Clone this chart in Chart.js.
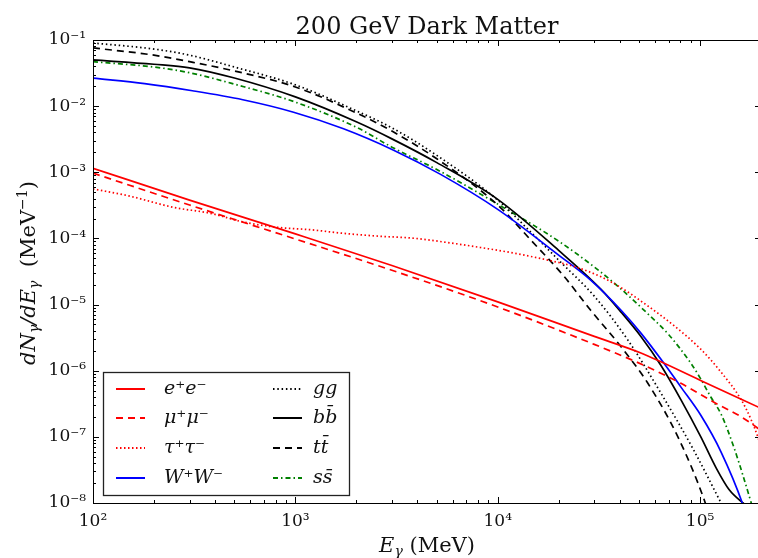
<!DOCTYPE html>
<html>
<head>
<meta charset="utf-8">
<script src="https://cdn.jsdelivr.net/npm/chart.js@4"></script>
<style>
  html, body { margin: 0; padding: 0; background: #fff; overflow: hidden; }
  canvas { display: block; }
</style>
</head>
<body>
<canvas id="spectra" width="761" height="558"></canvas>
<script>
// photon energy (MeV) / dN/dE (1/MeV), one pair per channel
const eeE = [100, 300, 1000, 3000, 1e4, 3e4, 5.1e4, 1e5, 2e5];
const eeN = [1.15e-3, 3.8e-4, 1.17e-4, 3.9e-5, 1.1e-5, 3.3e-6, 1.85e-6, 7.2e-7, 2.7e-7];

const mumuE = [100, 300, 1000, 3000, 1e4, 3e4, 5.3e4, 8e4, 1.2e5, 1.6e5, 1.9e5, 2e5];
const mumuN = [9.7e-4, 3.2e-4, 9.8e-5, 3.3e-5, 9.2e-6, 2.5e-6, 1.2e-6, 6.5e-7, 3.2e-7, 2.0e-7, 1.4e-7, 1.25e-7];

const tautauE = [100, 150, 250, 380, 550, 800, 1200, 1700, 2600, 3800, 5600, 8200, 1.2e4, 1.77e4, 2.43e4, 3.24e4, 4.07e4, 5.28e4, 7.43e4, 1.01e5, 1.27e5, 1.6e5, 1.79e5, 1.94e5, 2e5];
const tautauN = [5.6e-4, 4.4e-4, 2.95e-4, 2.4e-4, 1.78e-4, 1.48e-4, 1.35e-4, 1.2e-4, 1.08e-4, 1.01e-4, 8.7e-5, 7.3e-5, 6.0e-5, 4.7e-5, 3.7e-5, 2.63e-5, 1.8e-5, 1.05e-5, 4.8e-6, 2.1e-6, 9.5e-7, 3.6e-7, 1.8e-7, 9.5e-8, 7e-8];

const wwE = [100, 180, 310, 550, 980, 1730, 3060, 5220, 1e4, 2e4, 2.88e4, 4.07e4, 5.1e4, 6.56e4, 8.06e4, 1.01e5, 1.27e5, 1.63e5, 1.7e5];
const wwN = [2.66e-2, 2.19e-2, 1.71e-2, 1.25e-2, 8.1e-3, 4.55e-3, 2.16e-3, 9.3e-4, 2.75e-4, 5.6e-5, 2.34e-5, 8.2e-6, 3.7e-6, 1.35e-6, 5.6e-7, 2.1e-7, 5.9e-8, 9.3e-9, 6e-9];

const ggE = [100, 200, 300, 500, 1000, 2000, 3000, 5000, 1e4, 1.46e4, 2e4, 3e4, 4.4e4, 6.4e4, 9.3e4, 1.27e5, 1.35e5];
const ggN = [9.0e-2, 7.3e-2, 5.9e-2, 3.9e-2, 2.1e-2, 8.5e-3, 4.7e-3, 1.8e-3, 3.8e-4, 1.24e-4, 4.7e-5, 1.34e-5, 2.9e-6, 4.6e-7, 6.3e-8, 1e-8, 7e-9];

const bbE = [100, 200, 300, 500, 1000, 2000, 3000, 5000, 1e4, 2e4, 3.24e4, 4.07e4, 5.1e4, 6.41e4, 8.06e4, 1.01e5, 1.2e5, 1.39e5, 1.63e5, 1.75e5];
const bbN = [5.0e-2, 4.3e-2, 3.8e-2, 2.66e-2, 1.38e-2, 5.8e-3, 3.2e-3, 1.4e-3, 3.9e-4, 6.6e-5, 1.7e-5, 7.7e-6, 3.3e-6, 1.2e-6, 3.6e-7, 9.9e-8, 3.4e-8, 1.6e-8, 1.0e-8, 8.5e-9];

const ttE = [100, 200, 300, 500, 1000, 2000, 3000, 5000, 1e4, 1.46e4, 2.12e4, 2.88e4, 4.07e4, 5.53e4, 7.78e4, 1.05e5, 1.1e5];
const ttN = [7.6e-2, 5.9e-2, 4.7e-2, 3.4e-2, 1.95e-2, 7.9e-3, 4.2e-3, 1.6e-3, 3.2e-4, 9.4e-5, 2.7e-5, 8.2e-6, 2.3e-6, 6.4e-7, 9.9e-8, 1.1e-8, 7e-9];

const ssE = [100, 200, 300, 500, 1000, 2000, 3000, 5000, 1e4, 2e4, 3e4, 4e4, 5.1e4, 7e4, 9e4, 1e5, 1.13e5, 1.27e5, 1.47e5, 1.79e5, 1.85e5];
const ssN = [4.7e-2, 3.9e-2, 3.2e-2, 2.15e-2, 1.15e-2, 4.8e-3, 2.4e-3, 1.1e-3, 3.3e-4, 9.1e-5, 3.7e-5, 1.8e-5, 9.1e-6, 3.5e-6, 1.3e-6, 7.8e-7, 4e-7, 2.2e-7, 6.9e-8, 1e-8, 7e-9];

const channels = ['e⁺e⁻', 'μ⁺μ⁻', 'τ⁺τ⁻', 'W⁺W⁻', 'gg', 'bb̄', 'tt̄', 'ss̄'];

const xTickVals = [1e2, 1e3, 1e4, 1e5];
const xTickLabels = ['10²', '10³', '10⁴', '10⁵'];
const yTickVals = [1e-8, 1e-7, 1e-6, 1e-5, 1e-4, 1e-3, 1e-2, 1e-1];
const yTickLabels = ['10⁻⁸', '10⁻⁷', '10⁻⁶', '10⁻⁵', '10⁻⁴', '10⁻³', '10⁻²', '10⁻¹'];

const SERIF = '"DejaVu Serif", serif';

function pts(xs, ys) {
  return xs.map((x, i) => ({ x: x, y: ys[i] }));
}

function series(label, xs, ys, color, dash) {
  return {
    label: label,
    data: pts(xs, ys),
    borderColor: color,
    borderDash: dash,
    borderWidth: 1.7,
    pointRadius: 0,
    fill: false,
    cubicInterpolationMode: 'monotone',
  };
}

// 1..9 x 10^n between min and max, used for the minor ticks
function logTicks(min, max) {
  const out = [];
  for (let e = Math.floor(Math.log10(min)); e <= Math.ceil(Math.log10(max)); e++) {
    for (let m = 1; m < 10; m++) {
      const v = m * Math.pow(10, e);
      if (v >= min * 0.999 && v <= max * 1.001) out.push(v);
    }
  }
  return out;
}

function isDecade(v) {
  const l = Math.log10(v);
  return Math.abs(l - Math.round(l)) < 1e-6;
}

function labelFor(vals, labels) {
  return (value) => {
    const i = vals.findIndex(t => Math.abs(Math.log10(t) - Math.log10(value)) < 1e-6);
    return i >= 0 ? labels[i] : '';
  };
}

// draw a run of differently styled text pieces, starting at x
function drawParts(ctx, parts, x, y) {
  parts.forEach(p => {
    ctx.font = p.font;
    ctx.fillText(p.t, x, y + (p.dy || 0));
    x += ctx.measureText(p.t).width;
  });
}
function partsWidth(ctx, parts) {
  let w = 0;
  parts.forEach(p => { ctx.font = p.font; w += ctx.measureText(p.t).width; });
  return w;
}

const decorations = {
  id: 'decorations',
  afterDatasetsDraw(chart) {
    const { ctx, chartArea: a, scales } = chart;
    ctx.save();
    ctx.strokeStyle = '#000';
    ctx.lineWidth = 1;
    ctx.setLineDash([]);
    ctx.strokeRect(a.left + 0.5, a.top + 0.5, a.right - a.left - 1, a.bottom - a.top);

    ctx.beginPath();
    scales.x.ticks.forEach(t => {
      const px = Math.round(scales.x.getPixelForValue(t.value)) + 0.5;
      const len = isDecade(t.value) ? 6 : 3;
      ctx.moveTo(px, a.bottom); ctx.lineTo(px, a.bottom - len);
      ctx.moveTo(px, a.top); ctx.lineTo(px, a.top + len);
    });
    scales.y.ticks.forEach(t => {
      const py = Math.round(scales.y.getPixelForValue(t.value)) + 0.5;
      const len = isDecade(t.value) ? 6 : 3;
      ctx.moveTo(a.left, py); ctx.lineTo(a.left + len, py);
      ctx.moveTo(a.right, py); ctx.lineTo(a.right - len, py);
    });
    ctx.stroke();

    // legend, two columns inside the plot
    const bx = 103.5, by = 372.5, bw = 246, bh = 123;
    ctx.fillStyle = '#fff';
    ctx.fillRect(bx, by, bw, bh);
    ctx.lineWidth = 1.3;
    ctx.strokeStyle = '#222';
    ctx.strokeRect(bx, by, bw, bh);
    const rows = [389, 418, 448, 478];
    const cols = [{ x0: 116, x1: 145, tx: 164 }, { x0: 273, x1: 302, tx: 313 }];
    ctx.textBaseline = 'middle';
    ctx.textAlign = 'left';
    chart.data.datasets.forEach((ds, i) => {
      const c = cols[Math.floor(i / 4)];
      const y = rows[i % 4];
      ctx.strokeStyle = ds.borderColor;
      ctx.lineWidth = 2;
      ctx.setLineDash(ds.borderDash || []);
      ctx.beginPath();
      ctx.moveTo(c.x0, y); ctx.lineTo(c.x1, y);
      ctx.stroke();
      ctx.setLineDash([]);
      ctx.fillStyle = '#111';
      ctx.font = 'italic 19px ' + SERIF;
      ctx.fillText(ds.label, c.tx, y);
    });

    // title and axis titles
    ctx.fillStyle = '#111';
    ctx.textBaseline = 'alphabetic';
    ctx.textAlign = 'center';
    ctx.font = '24px ' + SERIF;
    ctx.fillText('200 GeV Dark Matter', (a.left + a.right) / 2, 34);

    ctx.textAlign = 'left';
    const it = 'italic 21px ' + SERIF, rm = '21px ' + SERIF;
    const sub = 'italic 14px ' + SERIF, sup = '14px ' + SERIF;
    const xParts = [
      { t: 'E', font: it }, { t: 'γ', font: sub, dy: 4 }, { t: ' (MeV)', font: rm },
    ];
    drawParts(ctx, xParts, (a.left + a.right) / 2 - partsWidth(ctx, xParts) / 2, 552);

    const yParts = [
      { t: 'dN', font: it }, { t: 'γ', font: sub, dy: 4 }, { t: '/dE', font: it },
      { t: 'γ', font: sub, dy: 4 }, { t: '  (MeV', font: rm }, { t: '−1', font: sup, dy: -8 },
      { t: ')', font: rm },
    ];
    ctx.translate(35, 273);
    ctx.rotate(-Math.PI / 2);
    drawParts(ctx, yParts, -partsWidth(ctx, yParts) / 2, 0);
    ctx.restore();
  },
};

// keep the plot box where it is in the reference
function noPad(scale) {
  scale.paddingLeft = 0;
  scale.paddingRight = 0;
  scale.paddingTop = 0;
  scale.paddingBottom = 0;
}

new Chart(document.getElementById('spectra'), {
  type: 'line',
  data: {
    datasets: [
      series(channels[0], eeE, eeN, '#ff0000', []),
      series(channels[1], mumuE, mumuN, '#ff0000', [7, 5]),
      series(channels[2], tautauE, tautauN, '#ff0000', [1.5, 2.5]),
      series(channels[3], wwE, wwN, '#0000ff', []),
      series(channels[4], ggE, ggN, '#000000', [1.5, 2.8]),
      series(channels[5], bbE, bbN, '#000000', []),
      series(channels[6], ttE, ttN, '#000000', [7, 5]),
      series(channels[7], ssE, ssN, '#008000', [5, 3, 1.5, 3]),
    ],
  },
  options: {
    responsive: false,
    animation: false,
    layout: { padding: { top: 40, right: 0, left: 0, bottom: 0 } },
    plugins: {
      legend: { display: false },
      title: { display: false },
      tooltip: { enabled: false },
    },
    scales: {
      x: {
        type: 'logarithmic',
        min: 100,
        max: 2e5,
        grid: { display: false, drawTicks: false },
        border: { display: false },
        afterBuildTicks: (scale) => { scale.ticks = logTicks(scale.min, scale.max).map(v => ({ value: v })); },
        afterFit: (scale) => { scale.height = 55; noPad(scale); },
        ticks: {
          autoSkip: false,
          maxRotation: 0,
          padding: 8,
          color: '#111',
          font: { family: SERIF, size: 17 },
          callback: labelFor(xTickVals, xTickLabels),
        },
      },
      y: {
        type: 'logarithmic',
        min: 1e-8,
        max: 1e-1,
        grid: { display: false, drawTicks: false },
        border: { display: false },
        afterBuildTicks: (scale) => { scale.ticks = logTicks(scale.min, scale.max).map(v => ({ value: v })); },
        afterFit: (scale) => { scale.width = 93; noPad(scale); },
        ticks: {
          autoSkip: false,
          padding: 7,
          color: '#111',
          font: { family: SERIF, size: 17 },
          callback: labelFor(yTickVals, yTickLabels),
        },
      },
    },
  },
  plugins: [decorations],
});
</script>
</body>
</html>
